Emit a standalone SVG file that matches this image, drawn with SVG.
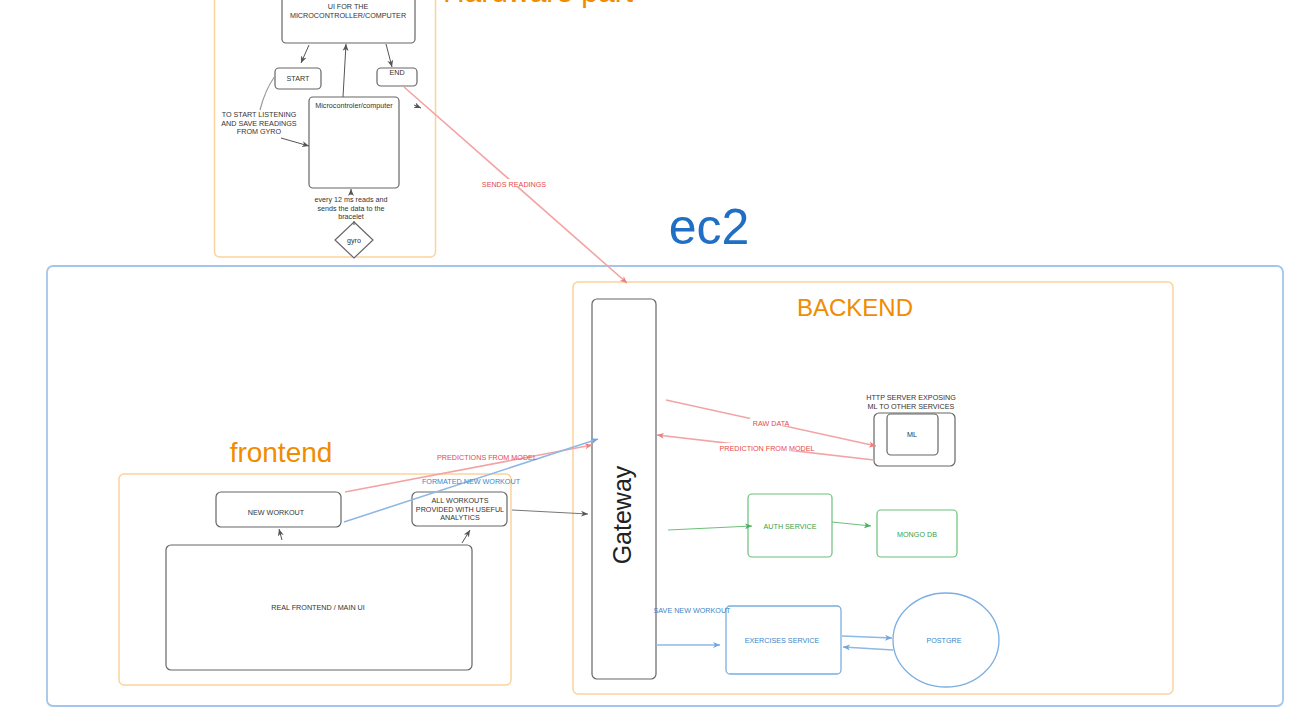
<svg xmlns="http://www.w3.org/2000/svg" width="1314" height="712" viewBox="0 0 1314 712">
<style>
text{font-family:"Liberation Sans",Arial,sans-serif;}
.box{fill:#fff;stroke:#666;stroke-width:1.2;}
.cont{fill:none;stroke:#fbd39c;stroke-width:1.5;}
.ec2{fill:none;stroke:#a4c6e9;stroke-width:1.8;}
.t{font-size:7.2px;fill:#333;text-anchor:middle;}
.tr{font-size:7.2px;fill:#e8474c;text-anchor:middle;}
.tb{font-size:7.2px;fill:#3d85c6;text-anchor:middle;}
.tg{font-size:7.2px;fill:#3aa04a;text-anchor:middle;}
.title{fill:#f08c00;text-anchor:middle;}
.gl{stroke:#555;stroke-width:1;fill:none;}
.rl{stroke:#f3a3a3;stroke-width:1.6;fill:none;}
.bl{stroke:#8fb8e4;stroke-width:1.6;fill:none;}
.grl{stroke:#6cc07a;stroke-width:1.2;fill:none;}
.gbox{fill:#fff;stroke:#6cc07a;stroke-width:1.2;}
.bbox{fill:#fff;stroke:#7aaee0;stroke-width:1.3;}
</style>
<defs>
<marker id="ag" markerWidth="8" markerHeight="8" refX="7" refY="4" orient="auto" markerUnits="userSpaceOnUse"><path d="M0,1 L7,4 L0,7 L2,4 Z" fill="#555"/></marker>
<marker id="ar" markerWidth="8" markerHeight="8" refX="7" refY="4" orient="auto" markerUnits="userSpaceOnUse"><path d="M0,1 L7,4 L0,7 L2,4 Z" fill="#ef7d7d"/></marker>
<marker id="ab" markerWidth="8" markerHeight="8" refX="7" refY="4" orient="auto" markerUnits="userSpaceOnUse"><path d="M0,1 L7,4 L0,7 L2,4 Z" fill="#6fa6dd"/></marker>
<marker id="agr" markerWidth="8" markerHeight="8" refX="7" refY="4" orient="auto" markerUnits="userSpaceOnUse"><path d="M0,1 L7,4 L0,7 L2,4 Z" fill="#4caf5c"/></marker>
</defs>

<g id="containers">
<rect id="hardware-container" class="cont" x="214.5" y="-30" width="221" height="287" rx="5"/>
<text class="title" x="538" y="2" font-size="30">Hardware part</text>
<rect id="ec2-container" class="ec2" x="47" y="266" width="1236" height="440" rx="6"/>
<text x="709" y="244" font-size="50" fill="#1f6fc5" text-anchor="middle">ec2</text>
<rect id="backend-container" class="cont" x="573" y="282" width="600" height="412" rx="5"/>
<text class="title" x="855" y="316" font-size="24">BACKEND</text>
<rect id="frontend-container" class="cont" x="119" y="474" width="392" height="211" rx="5"/>
<text class="title" x="281" y="462" font-size="28">frontend</text>
</g>

<g id="ui-box"><rect class="box" x="282" y="-20" width="133" height="63" rx="4"/>
<text class="t" x="348" y="9">UI FOR THE</text><text class="t" x="348" y="17.5">MICROCONTROLLER/COMPUTER</text></g>
<g id="start"><rect class="box" x="275" y="68" width="46" height="21" rx="4"/><text class="t" x="298" y="81">START</text></g>
<g id="end"><rect class="box" x="377" y="68" width="40" height="18" rx="4"/><text class="t" x="397" y="75">END</text></g>
<g id="microcontroller"><rect class="box" x="309" y="97" width="90" height="91" rx="4"/><text class="t" x="354" y="108">Microcontroler/computer</text></g>
<g id="start-note"><text class="t" x="259" y="117">TO START LISTENING</text><text class="t" x="259" y="125.5">AND SAVE READINGS</text><text class="t" x="259" y="134">FROM GYRO</text></g>
<g id="gyro-note"><text class="t" x="351" y="202">every 12 ms reads and</text><text class="t" x="351" y="210.5">sends the data to the</text><text class="t" x="351" y="219">bracelet</text></g>
<g id="gyro"><path class="box" d="M354,222 L373,240 L354,258 L335,240 Z"/><text class="t" x="354" y="242.5">gyro</text></g>

<g id="gateway"><rect class="box" x="592" y="299" width="64" height="380" rx="5" stroke="#777"/>
<text x="0" y="0" font-size="25" fill="#222" text-anchor="middle" transform="translate(631,515) rotate(-90)">Gateway</text></g>
<g id="ml-server"><rect class="box" x="874" y="413" width="81" height="53" rx="5"/><rect class="box" x="887" y="414" width="51" height="41" rx="4" stroke="#777"/>
<text class="t" x="912" y="437">ML</text>
<text class="t" x="911" y="400">HTTP SERVER EXPOSING</text><text class="t" x="911" y="408.5">ML TO OTHER SERVICES</text></g>
<g id="auth-service"><rect class="gbox" x="748" y="494" width="84" height="63" rx="4"/><text class="tg" x="790" y="528.5">AUTH SERVICE</text></g>
<g id="mongo-db"><rect class="gbox" x="877" y="510" width="80" height="47" rx="4"/><text class="tg" x="917" y="536.5">MONGO DB</text></g>
<g id="exercises-service"><rect class="bbox" x="726" y="606" width="115" height="68" rx="4"/><text class="tb" x="782" y="642.5">EXERCISES SERVICE</text></g>
<g id="postgre"><ellipse class="bbox" cx="946" cy="640" rx="53" ry="47"/><text class="tb" x="944" y="642.5">POSTGRE</text></g>

<g id="new-workout"><rect class="box" x="216" y="492" width="125" height="35" rx="5"/><text class="t" x="276" y="515">NEW WORKOUT</text></g>
<g id="all-workouts"><rect class="box" x="412" y="492" width="95" height="34" rx="5"/>
<text class="t" x="460" y="503">ALL WORKOUTS</text><text class="t" x="460" y="511.5">PROVIDED WITH USEFUL</text><text class="t" x="460" y="520">ANALYTICS</text></g>
<g id="real-frontend"><rect class="box" x="166" y="545" width="306" height="125" rx="5"/><text class="t" x="318" y="610">REAL FRONTEND / MAIN UI</text></g>

<g id="connectors">
<line class="gl" x1="309" y1="45" x2="301" y2="63" marker-end="url(#ag)"/>
<line class="gl" x1="343" y1="97" x2="346" y2="44" marker-end="url(#ag)"/>
<line class="gl" x1="386" y1="44" x2="392" y2="67" marker-end="url(#ag)"/>
<path d="M275,76 Q265,90 260,110" stroke="#999" stroke-width="1.2" fill="none"/>
<line class="gl" x1="281" y1="138" x2="309" y2="146" marker-end="url(#ag)"/>
<line class="gl" x1="414" y1="105" x2="421" y2="108" marker-end="url(#ag)"/>
<line class="gl" x1="351" y1="195" x2="351" y2="189" marker-end="url(#ag)"/>
<line class="gl" x1="354" y1="225" x2="354" y2="221"/>
<line class="rl" x1="404" y1="87" x2="627" y2="283" marker-end="url(#ar)"/>
<rect x="480" y="179" width="68" height="8" fill="#fff"/>
<text class="tr" x="514" y="186.5">SENDS READINGS</text>

<line class="rl" x1="666" y1="400" x2="876" y2="446" marker-end="url(#ar)"/>
<line class="rl" x1="874" y1="460" x2="657" y2="435" marker-end="url(#ar)"/>
<rect x="750" y="418" width="42" height="8" fill="#fff"/>
<text class="tr" x="771" y="425.5">RAW DATA</text>
<rect x="717" y="443" width="100" height="8" fill="#fff"/>
<text class="tr" x="767" y="450.5">PREDICTION FROM MODEL</text>

<line class="grl" x1="668" y1="530" x2="752" y2="526" marker-end="url(#agr)"/>
<line class="grl" x1="832" y1="522" x2="871" y2="526" marker-end="url(#agr)"/>

<line class="bl" x1="656" y1="645" x2="720" y2="645" marker-end="url(#ab)"/>
<text class="tb" x="692" y="613">SAVE NEW WORKOUT</text>
<line class="bl" x1="842" y1="636" x2="892" y2="638" marker-end="url(#ab)"/>
<line class="bl" x1="893" y1="650" x2="843" y2="647" marker-end="url(#ab)"/>

<line class="gl" x1="282" y1="540" x2="279" y2="529" marker-end="url(#ag)"/>
<line class="gl" x1="462" y1="543" x2="470" y2="530" marker-end="url(#ag)"/>
<line class="rl" x1="345" y1="492" x2="592" y2="445" marker-end="url(#ar)"/>
<line class="bl" x1="344" y1="522" x2="598" y2="439" marker-end="url(#ab)"/>
<text class="tr" x="487" y="459.5">PREDICTIONS FROM MODEL</text>
<text class="tb" x="471" y="483.5">FORMATED NEW WORKOUT</text>
<line x1="512" y1="510" x2="588" y2="514" stroke="#777" stroke-width="1.2" marker-end="url(#ag)"/>
</g>
</svg>
